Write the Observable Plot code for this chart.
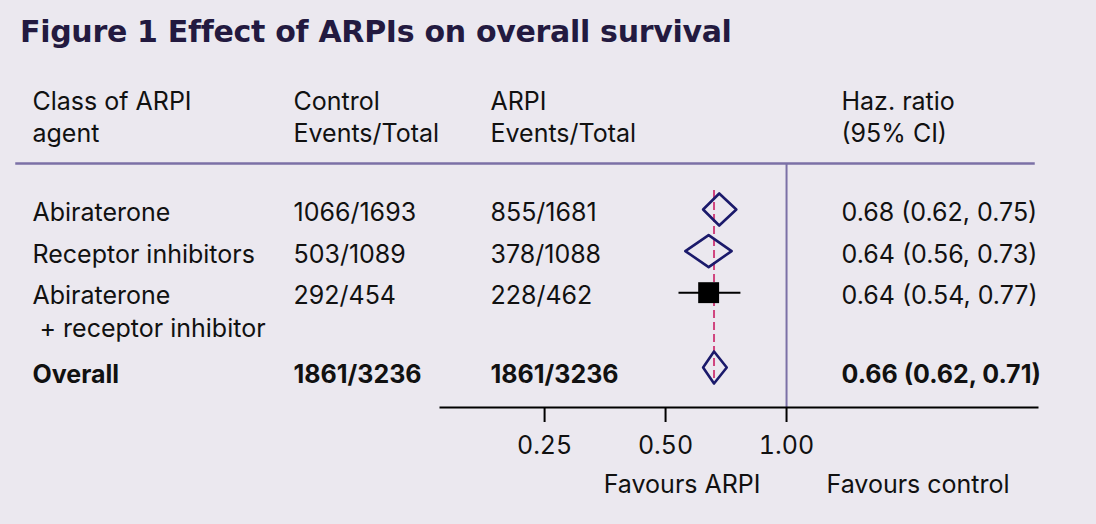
<!DOCTYPE html>
<html><head><meta charset="utf-8">
<script src="https://cdn.jsdelivr.net/npm/d3@7"></script>
<script src="https://cdn.jsdelivr.net/npm/@observablehq/plot@0.6"></script>
<style>
html,body{margin:0;padding:0;background:#ebe8ef;}
body{width:1096px;height:524px;overflow:hidden;}
#title{height:66px;box-sizing:border-box;padding:17px 0 0 20px;font-family:"DejaVu Sans",sans-serif;font-weight:bold;font-size:30px;line-height:30px;letter-spacing:-0.3px;color:#231a40;white-space:nowrap;}
#chart svg{display:block;}
</style></head><body>
<div id="title">Figure 1 Effect of ARPIs on overall survival</div>
<div id="chart"></div>
<script>
// ---- data ----
const categories = ["Abiraterone", "Receptor inhibitors", "Abiraterone\n\u00a0+ receptor inhibitor"];
const controlEvents = [1066, 503, 292];
const controlTotal = [1693, 1089, 454];
const arpiEvents = [855, 378, 228];
const arpiTotal = [1681, 1088, 462];
const hazardRatio = [0.68, 0.64, 0.64];
const ciLower = [0.62, 0.56, 0.54];
const ciUpper = [0.75, 0.73, 0.77];
const markerShape = ["diamond", "diamond", "square"];
const overallLabel = "Overall";
const overallControl = [1861, 3236];
const overallArpi = [1861, 3236];
const overallEstimate = [0.66, 0.62, 0.71];
const headers = ["Class of ARPI\nagent", "Control\nEvents/Total", "ARPI\nEvents/Total", "Haz. ratio\n(95% CI)"];
const xTicks = [0.25, 0.5, 1];
const favourLabels = ["Favours ARPI", "Favours control"];

// ---- table built from data ----
const f2 = v => v.toFixed(2);
const rows = categories.map((label, i) => ({
  label, row: i,
  control: `${controlEvents[i]}/${controlTotal[i]}`,
  arpi: `${arpiEvents[i]}/${arpiTotal[i]}`,
  hr: hazardRatio[i], lo: ciLower[i], hi: ciUpper[i],
  shape: markerShape[i],
  hrText: `${f2(hazardRatio[i])} (${f2(ciLower[i])}, ${f2(ciUpper[i])})`
}));
const overallRowIndex = 3.8; // layout: gap before overall row
const overall = {
  label: overallLabel, row: overallRowIndex,
  control: `${overallControl[0]}/${overallControl[1]}`,
  arpi: `${overallArpi[0]}/${overallArpi[1]}`,
  hr: overallEstimate[0], lo: overallEstimate[1], hi: overallEstimate[2],
  shape: "diamond",
  hrText: `${f2(overallEstimate[0])} (${f2(overallEstimate[1])}, ${f2(overallEstimate[2])})`
};
const allRows = [...rows, overall];
const H = 0.385; // diamond half height in row units (layout)
const diamondPts = allRows.filter(d => d.shape === "diamond").flatMap((d, k) => [
  {id: k, x: d.lo, y: d.row}, {id: k, x: d.hr, y: d.row - H},
  {id: k, x: d.hi, y: d.row}, {id: k, x: d.hr, y: d.row + H}
]);
const squares = allRows.filter(d => d.shape === "square");

// ---- layout ----
const FS = 25;
const colDx = [-408, -147, 50, 401];
const rowLH = 33 / FS;
const rowDy = 11.5 - 0.71 * rowLH * FS;
const overallDy = 15.5 - 0.71 * rowLH * FS;
const headLH = 33 / FS;
const headDy = -54 - 0.71 * headLH * FS;
const purple = "#7b70a6", navy = "#1b1a6b", pink = "#d0457f";

const textCols = ["label", "control", "arpi", "hrText"];
const rowText = (data, opts) => textCols.map((c, j) => Plot.text(data, {
  y: "row", text: c, frameAnchor: "left", textAnchor: "start", dx: colDx[j],
  lineAnchor: "top", lineHeight: rowLH, fill: "#111", ...opts
}));

const chart = Plot.plot({
  width: 1096, height: 458,
  marginLeft: 440, marginRight: 59, marginTop: 97, marginBottom: 117,
  style: {background: "transparent", fontFamily: "Inter, 'Open Sans', sans-serif", fontSize: FS + "px", color: "#111"},
  x: {type: "log", domain: [0.1377, 4.212]},
  y: {domain: [0, 3.8], range: [143, 301], axis: null},
  marks: [
    Plot.frame({anchor: "top", stroke: purple, strokeWidth: 2.5, insetLeft: -424, insetRight: 4}),
    Plot.ruleX([1], {stroke: purple, strokeWidth: 2}),
    Plot.ruleX([overall], {x: "hr", y1: 0, y2: overall.row, insetTop: -19, insetBottom: -15, stroke: pink, strokeWidth: 2, strokeDasharray: "8,4"}),
    Plot.frame({anchor: "bottom", stroke: "#000", strokeWidth: 2}),
    Plot.axisX({ticks: xTicks, tickFormat: ".2f", tickSize: 15, tickPadding: 14, strokeWidth: 2, stroke: "#000", fill: "#111", fontSize: FS, label: null}),
    Plot.line(diamondPts, {x: "x", y: "y", z: "id", curve: "linear-closed", stroke: navy, strokeWidth: 2.6, fill: "none"}),
    Plot.ruleY(squares, {y: "row", x1: "lo", x2: "hi", stroke: "#000", strokeWidth: 2}),
    Plot.dot(squares, {x: "hr", y: "row", symbol: "square", r: 11.8, fill: "#000", stroke: "none"}),
    ...headers.map((h, j) => Plot.text([h], {text: d => d, frameAnchor: "top-left", textAnchor: "start", dx: colDx[j], dy: headDy, lineAnchor: "top", lineHeight: headLH, fill: "#111"})),
    ...rowText(rows, {dy: rowDy}),
    ...rowText([overall], {fontWeight: "bold", dy: overallDy}),
    Plot.text([favourLabels[0]], {x: [1], text: d => d, textAnchor: "end", frameAnchor: "bottom", lineAnchor: "bottom", dx: -26, dy: 85, fill: "#111"}),
    Plot.text([favourLabels[1]], {x: [1], text: d => d, textAnchor: "start", frameAnchor: "bottom", lineAnchor: "bottom", dx: 40, dy: 85, fill: "#111"})
  ]
});
document.getElementById("chart").appendChild(chart);
</script>
</body></html>
